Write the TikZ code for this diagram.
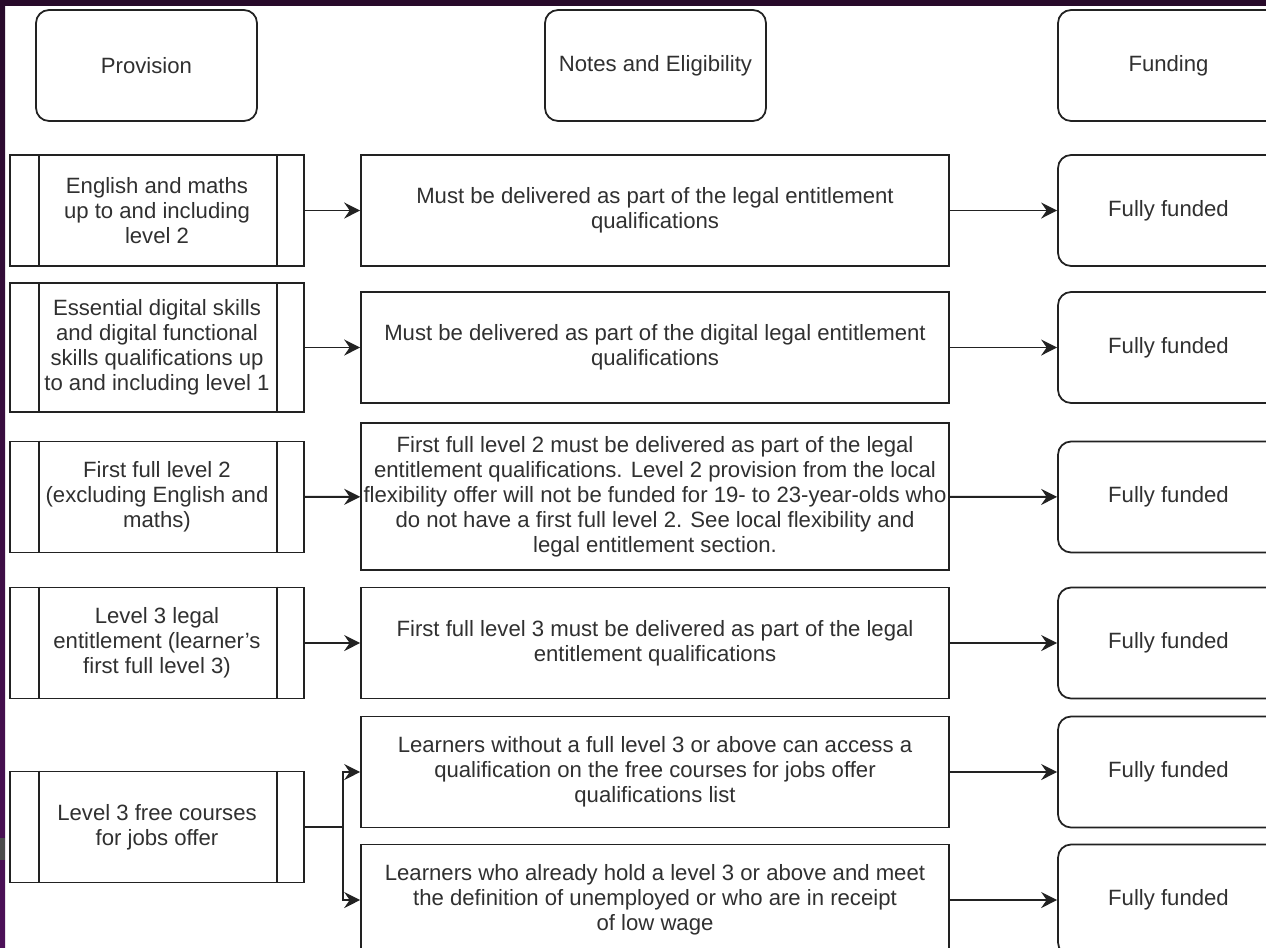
\documentclass[tikz,border=0pt]{standalone}
\usepackage{fontspec}
\setmainfont{Liberation Sans}
\usetikzlibrary{arrows.meta}
\definecolor{framepurple}{RGB}{40,10,42}
\definecolor{stripviolet}{RGB}{76,16,88}
\definecolor{inkgray}{RGB}{34,34,34}
\definecolor{textgray}{RGB}{48,48,48}
\tikzset{
  base/.style={draw=inkgray, line width=1pt, text=textgray, align=center, inner sep=0pt,
    font=\fontsize{12.6}{14.2}\selectfont},
  headbox/.style={base, rounded corners=0.26cm, minimum width=4.42cm, minimum height=2.22cm},
  provbox/.style={base, minimum width=5.88cm, minimum height=2.22cm},
  notebox/.style={base, minimum width=11.76cm, minimum height=2.22cm},
  fundbox/.style={headbox},
  link/.style={draw=inkgray, line width=1.1pt, -{Stealth[length=3.2mm, width=3.2mm, inset=1.1mm]}}
}

\begin{document}
\begin{tikzpicture}[x=0.02cm, y=-0.02cm]
		\useasboundingbox (0,0) rectangle (1266,947);
		\clip (0,0) rectangle (1266,947);
		\fill[white] (0,0) rectangle (1266,947);
		% frame of the screenshot
		\shade[top color=framepurple, bottom color=stripviolet] (0,0) rectangle (5,947);
		\fill[gray!60!black] (0,838) rectangle (5,860);
		\fill[framepurple] (0,0) rectangle (1266,6);

		% column headers
		\node[headbox] (hprov) at (146.5,65.5) {Provision};
		\node[headbox] (hnote) at (655.5,65.5) {Notes and Eligibility};
		\node[headbox] (hfund) at (1168.5,65.5) {Funding};

		% provision
		\node[provbox] (p1) at (157,210.5) {English and maths\\up to and including\\level 2};
		\node[provbox, minimum height=2.58cm] (p2) at (157,347.5) {Essential digital skills\\and digital functional\\skills qualifications up\\to and including level 1};
		\node[provbox] (p3) at (157,497) {First full level 2\\(excluding English and\\maths)};
		\node[provbox] (p4) at (157,643) {Level 3 legal\\entitlement (learner's\\first full level 3)};
		\node[provbox] (p5) at (157,827) {Level 3 free courses\\for jobs offer};
		\foreach \p in {p1,p2,p3,p4,p5}
			\draw[draw=inkgray, line width=1pt] ([xshift=0.6cm]\p.north west) -- ([xshift=0.6cm]\p.south west)
				([xshift=-0.56cm]\p.north east) -- ([xshift=-0.56cm]\p.south east);

		% notes and eligibility
		\node[notebox] (n1) at (655,210.5) {Must be delivered as part of the legal entitlement\\qualifications};
		\node[notebox] (n2) at (655,347.5) {Must be delivered as part of the digital legal entitlement\\qualifications};
		\node[notebox, minimum height=2.94cm] (n3) at (655,496.5) {First full level 2 must be delivered as part of the legal\\entitlement qualifications. Level 2 provision from the local\\flexibility offer will not be funded for 19- to 23-year-olds who\\do not have a first full level 2. See local flexibility and\\legal entitlement section.};
		\node[notebox] (n4) at (655,643) {First full level 3 must be delivered as part of the legal\\entitlement qualifications};
		\node[notebox] (n5a) at (655,772) {Learners without a full level 3 or above can access a\\qualification on the free courses for jobs offer\\qualifications list};
		\node[notebox] (n5b) at (655,900) {Learners who already hold a level 3 or above and meet\\the definition of unemployed or who are in receipt\\of low wage};

		% funding
		\node[fundbox] (f1) at (1168.5,210.5) {Fully funded};
		\node[fundbox] (f2) at (1168.5,347.5) {Fully funded};
		\node[fundbox] (f3) at (1168.5,497) {Fully funded};
		\node[fundbox] (f4) at (1168.5,643) {Fully funded};
		\node[fundbox] (f5a) at (1168.5,772) {Fully funded};
		\node[fundbox] (f5b) at (1168.5,900) {Fully funded};

		% connectors
		\foreach \r in {1,2,3,4}
			\draw[link] (p\r) -- (n\r);
		\draw[draw=inkgray, line width=1.1pt] (p5.east) -- ++(38,0) coordinate (split);
		\draw[link] (split) |- (n5a.west);
		\draw[link] (split) |- (n5b.west);
		\foreach \r in {1,2,3,4,5a,5b}
			\draw[link] (n\r) -- (f\r);
\end{tikzpicture}
\end{document}
